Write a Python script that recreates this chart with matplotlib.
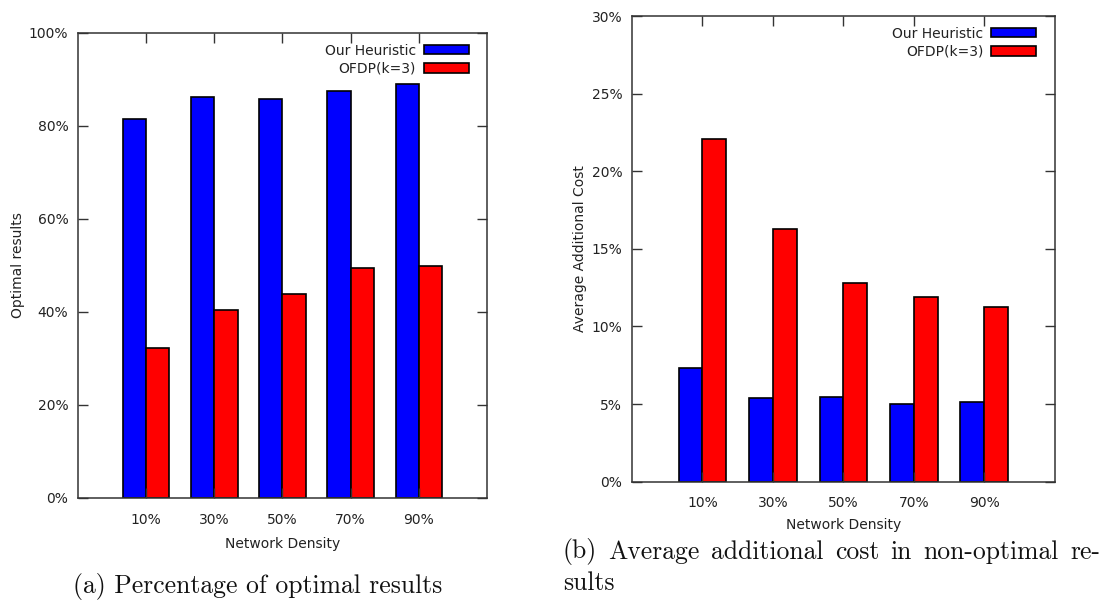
import matplotlib.pyplot as plt
import numpy as np
from matplotlib.ticker import FuncFormatter

# data
densities = ["10%", "30%", "50%", "70%", "90%"]
series_names = ["Our Heuristic", "OFDP(k=3)"]
optimal_heuristic = [81.6, 86.3, 85.7, 87.5, 89.0]
optimal_ofdp = [32.2, 40.4, 43.8, 49.5, 49.9]
cost_heuristic = [7.31, 5.37, 5.48, 4.99, 5.14]
cost_ofdp = [22.06, 16.3, 12.78, 11.9, 11.24]

blue = "#0000FF"
red = "#FF0000"
ink = "#222222"

plt.rcParams['font.family'] = ['DejaVu Sans']
plt.rcParams['font.size'] = 10
plt.rcParams['text.color'] = ink

fig = plt.figure(figsize=(11.02, 6.11), dpi=100)
ax1 = fig.add_axes([0.0708, 0.185, 0.3711, 0.761])
ax2 = fig.add_axes([0.5735, 0.2116, 0.3838, 0.7622])

x = np.arange(len(densities))
w = 0.34


def draw(ax, a, b, ymax, ystep, ylabel, xlab_pad):
    ax.bar(x - w / 2, a, w, color=blue, edgecolor="black", linewidth=1.2,
           label=series_names[0])
    ax.bar(x + w / 2, b, w, color=red, edgecolor="black", linewidth=1.2,
           label=series_names[1])
    ax.set_xlim(-1, 5)
    ax.set_ylim(0, ymax)
    ax.set_xticks(x)
    ax.set_xticklabels(densities)
    ax.set_yticks(np.arange(0, ymax + 0.01, ystep))
    ax.yaxis.set_major_formatter(FuncFormatter(lambda v, p: "%d%%" % round(v)))
    ax.tick_params(direction="in", length=7, width=1, color="#333333",
                   top=True, right=True, labelcolor=ink)
    ax.tick_params(axis="x", pad=10.5)
    ax.tick_params(axis="y", pad=7)
    for s in ax.spines.values():
        s.set_color("#333333")
        s.set_linewidth(1.1)
    ax.set_xlabel("Network Density", labelpad=xlab_pad, color=ink)
    ax.set_ylabel(ylabel, color=ink, labelpad=3)
    ax.legend(loc="upper right", bbox_to_anchor=(0.955, 0.977), frameon=False,
              markerfirst=False, handlelength=3.2, handleheight=0.65,
              handletextpad=0.6, labelspacing=0.3, borderpad=0,
              borderaxespad=0, fontsize=10)


draw(ax1, optimal_heuristic, optimal_ofdp, 100, 20, "Optimal results", 7.5)
draw(ax2, cost_heuristic, cost_ofdp, 30, 5, "Average Additional Cost", 5.5)

cap = dict(family="cmr10", fontsize=18.5, va="center", color="#111111")
fig.text(0.234, 0.040, "(a) Percentage of optimal results", ha="center", **cap)

# caption (b): justified first line like LaTeX, then "sults"
words = "(b) Average additional cost in non-optimal re-".split()
x0, x1 = 563 / 1102, 1100 / 1102
renderer = fig.canvas.get_renderer()
texts = [fig.text(0, 0.097, wd, ha="left", **cap) for wd in words]
widths = [t.get_window_extent(renderer).width / fig.bbox.width for t in texts]
gap = (x1 - x0 - sum(widths)) / (len(words) - 1)
pos = x0
for t, wd in zip(texts, widths):
    t.set_x(pos)
    pos += wd + gap
fig.text(x0, 0.045, "sults", ha="left", **cap)

fig.savefig("out.png", dpi=100)
